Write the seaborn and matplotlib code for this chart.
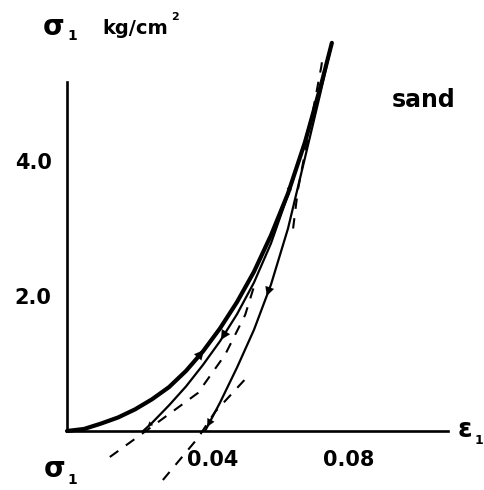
import numpy as np
import pandas as pd
import matplotlib
matplotlib.use("Agg")
import matplotlib.pyplot as plt
import matplotlib.transforms as mtransforms
import seaborn as sns

# ---- data (strain eps1, stress sigma1 in kg/cm^2) ----
loading_strain = [0, 0.005, 0.01, 0.015, 0.02, 0.025, 0.03, 0.035, 0.04, 0.045,
                  0.05, 0.055, 0.06, 0.065, 0.07, 0.075, 0.0779]
loading_stress = [0, 0.03, 0.11, 0.20, 0.32, 0.47, 0.65, 0.89, 1.18, 1.52,
                  1.91, 2.36, 2.90, 3.52, 4.28, 5.18, 5.75]

unload1_strain = [0.0224, 0.025, 0.03, 0.035, 0.04, 0.045, 0.05, 0.055, 0.06,
                  0.065, 0.07, 0.075, 0.0779]
unload1_stress = [0, 0.12, 0.38, 0.66, 0.98, 1.33, 1.73, 2.20, 2.78,
                  3.50, 4.30, 5.20, 5.75]

unload2_strain = [0.0406, 0.045, 0.05, 0.055, 0.06, 0.065, 0.07, 0.0745, 0.0779]
unload2_stress = [0, 0.42, 0.94, 1.50, 2.17, 3.00, 4.05, 5.00, 5.75]

dashA_strain = [0.0126, 0.0244, 0.0385, 0.0465, 0.0524, 0.0553]
dashA_stress = [-0.385, 0.044, 0.563, 1.13, 1.72, 2.19]

dashB_low_strain = [0.0282, 0.0385, 0.0435, 0.053]
dashB_low_stress = [-0.726, -0.104, 0.28, 0.80]

dashB_up_strain = [0.0665, 0.0679, 0.0718, 0.0748, 0.0753]
dashB_up_stress = [3.0, 3.57, 4.6, 5.4, 5.58]

x_ticks = [0.04, 0.08]
x_ticklabels = ["0.04", "0.08"]
y_ticks = [2.0, 4.0]
y_ticklabels = ["2.0", "4.0"]

# arrow positions given as stress levels on each curve (direction +1 up, -1 down)
arrows = [
    ("loading", 1.20, 1, 17),
    ("loading", 3.65, 1, 9),
    ("unload1", 1.35, -1, 17),
    ("unload1", 0.06, -1, 9),
    ("unload2", 2.00, -1, 16),
    ("unload2", 0.06, -1, 14),
]

# ---- figure ----
sns.set_style("white")
plt.rcParams["font.family"] = ["DejaVu Sans"]

W, H = 484, 490
fig = plt.figure(figsize=(W / 100, H / 100), dpi=100)
x0, x1, ytop, ybot = 67, 448, 82, 431
ax = fig.add_axes([x0 / W, (H - ybot) / H, (x1 - x0) / W, (ybot - ytop) / H])
px_per_x = 3400.0
px_per_y = 67.5
ax.set_xlim(0, (x1 - x0) / px_per_x)
ax.set_ylim(0, (ybot - ytop) / px_per_y)

curves = {
    "loading": (loading_strain, loading_stress),
    "unload1": (unload1_strain, unload1_stress),
    "unload2": (unload2_strain, unload2_stress),
}

def draw(xs, ys, **kw):
    df = pd.DataFrame({"x": xs, "y": ys})
    sns.lineplot(data=df, x="x", y="y", sort=False, estimator=None, ax=ax,
                 color="black", clip_on=False, **kw)

draw(loading_strain, loading_stress, linewidth=3.0)
draw(unload1_strain, unload1_stress, linewidth=1.6)
draw(unload2_strain, unload2_stress, linewidth=1.6)
for xs, ys in [(dashA_strain, dashA_stress), (dashB_low_strain, dashB_low_stress),
               (dashB_up_strain, dashB_up_stress)]:
    draw(xs, ys, linewidth=1.5, dashes=(5, 4.5))

# arrowheads along curves
for name, s, d, size in arrows:
    xs, ys = curves[name]
    xa = np.interp(s, ys, xs)
    xb = np.interp(s - d * 0.25, ys, xs)
    ax.annotate("", xy=(xa, s), xytext=(xb, s - d * 0.25),
                arrowprops=dict(arrowstyle="-|>", color="black", lw=0.1,
                                mutation_scale=size, shrinkA=0, shrinkB=0),
                annotation_clip=False)

# axes styling
for sp in ["top", "right"]:
    ax.spines[sp].set_visible(False)
for sp in ["left", "bottom"]:
    ax.spines[sp].set_linewidth(1.9)
    ax.spines[sp].set_color("black")
ax.set_xticks(x_ticks)
ax.set_xticklabels(x_ticklabels)
ax.set_yticks(y_ticks)
ax.set_yticklabels(y_ticklabels)
ax.tick_params(axis="both", direction="in", length=6, width=1.5, colors="black",
               labelsize=15)
ax.tick_params(axis="x", pad=14)
ax.tick_params(axis="y", pad=11)
for lab in ax.get_xticklabels() + ax.get_yticklabels():
    lab.set_fontweight("bold")
    lab.set_color("black")
off = mtransforms.ScaledTranslation(10 / 100, 0, fig.dpi_scale_trans)
for lab in ax.get_xticklabels():
    lab.set_transform(lab.get_transform() + off)
ax.set_xlabel("")
ax.set_ylabel("")
ax.grid(False)

# texts (figure pixel coordinates)
def ftext(x, y, s, size, **kw):
    fig.text(x / W, 1 - y / H, s, fontsize=size, fontweight="bold",
             ha="center", va="center", color="black", **kw)

ftext(54, 27, "σ", 20)
ftext(72, 36, "1", 10)
ftext(135, 29, "kg/cm", 14)
ftext(175, 17, "2", 8)
ftext(424, 100, "sand", 17)
ftext(465, 430, "ε", 19)
ftext(479, 440, "1", 9)
ftext(55, 469, "σ", 20)
ftext(72, 480, "1", 10)

fig.savefig("out.png", dpi=100, facecolor="white")
